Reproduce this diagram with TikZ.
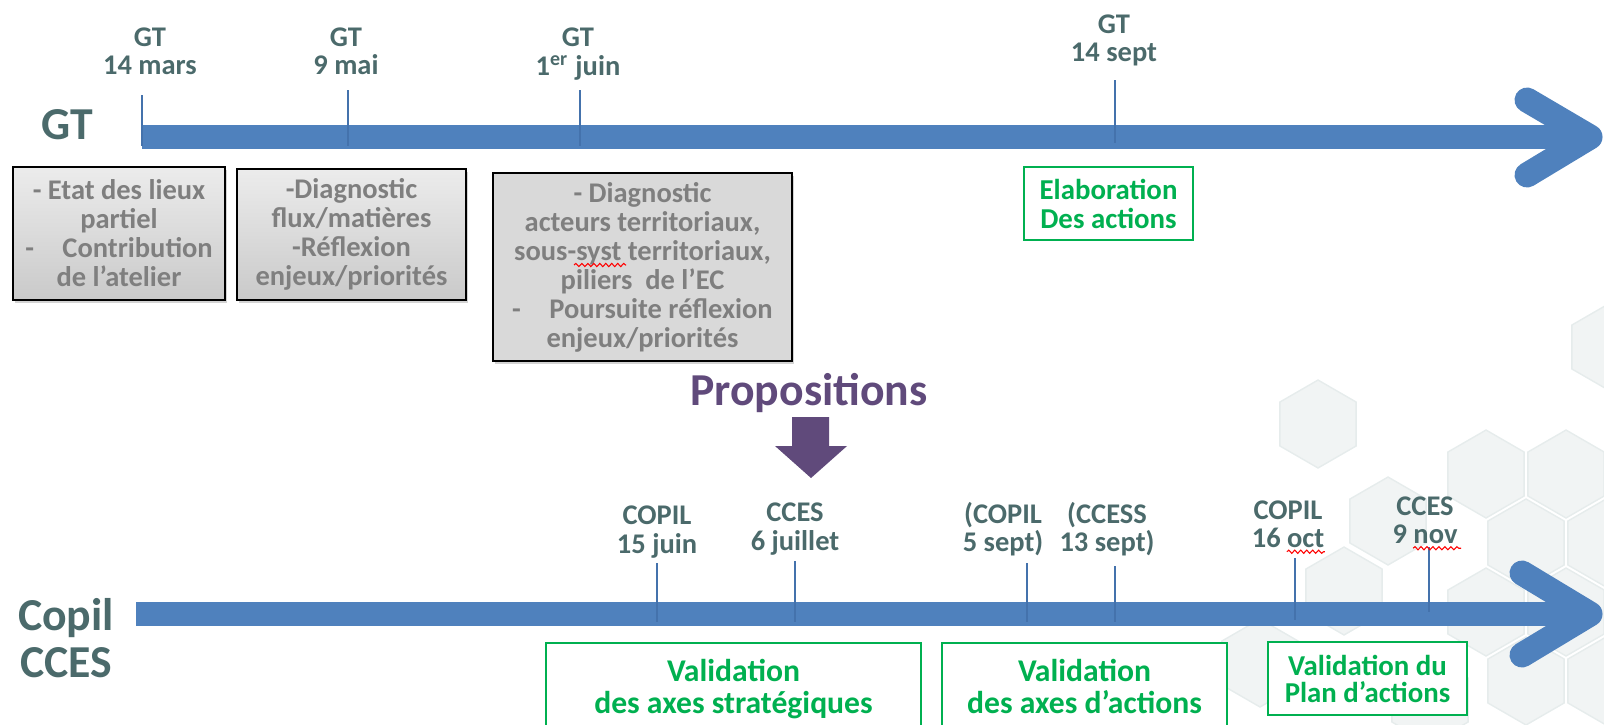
\documentclass[tikz,border=0pt]{standalone}
\usepackage{fontspec}
\setmainfont{Carlito}
\usetikzlibrary{shadows,decorations.pathmorphing}

\definecolor{bandblue}{HTML}{4F81BD}
\definecolor{tickblue}{HTML}{4472AC}
\definecolor{labelgray}{HTML}{4B6A6B}
\definecolor{boxtext}{HTML}{7F7F7F}
\definecolor{boxgray}{HTML}{D9D9D9}
\definecolor{okgreen}{HTML}{00B050}
\definecolor{propviolet}{HTML}{604A7B}
\definecolor{hexfill}{HTML}{F1F4F4}
\definecolor{hexline}{HTML}{E6ECEC}

\begin{document}
\begin{tikzpicture}[x=0.01cm, y=-0.01cm,
    band/.style={line width=0.24cm, draw=bandblue},
    chevron/.style={line width=0.25cm, draw=bandblue, line cap=round, line join=round},
    datetick/.style={line width=0.025cm, draw=tickblue},
    datelabel/.style={font=\bfseries\fontsize{8.1}{8}\selectfont, text=labelgray, align=center, inner sep=0pt},
    rowlabel/.style={font=\bfseries\fontsize{13}{13.4}\selectfont, text=labelgray, align=center, inner sep=0pt},
    taskbox/.style={draw=black, line width=0.02cm, fill=boxgray, text=boxtext, align=center, inner sep=0pt,
      font=\bfseries\fontsize{8.1}{8.25}\selectfont,
      drop shadow={shadow xshift=0.02cm, shadow yshift=-0.03cm, opacity=0.35}},
    fadebox/.style={top color=gray!15, bottom color=gray!42},
    goalbox/.style={draw=okgreen, line width=0.02cm, fill=white, text=okgreen, align=center, inner sep=0pt,
      font=\bfseries\fontsize{8.2}{8.25}\selectfont},
    spellwave/.style={red, line width=0.3pt, decorate, decoration={snake, amplitude=0.45pt, segment length=1.7pt}},
    hexbg/.style={fill=hexfill, draw=hexline, line width=0.4pt}]

\useasboundingbox (0,0) rectangle (1604,724);

\foreach \x/\y in {1318/424, 1388/521, 1344/591, 1260/663, 1486/474, 1566/474, 1526/543, 1606/543,
    1486/612, 1566/612, 1526/681, 1606/681, 1610/347, 1430/700}
  \draw[hexbg] (\x,\y) +(90:44) -- +(150:44) -- +(210:44) -- +(270:44) -- +(330:44) -- +(30:44) -- cycle;

\node[rowlabel] (gt) at (67,125) {GT};
\coordinate (gtstart) at (142,137);
\coordinate (gttip) at (1590,137);
\draw[band] (gtstart) -- (gttip);
\draw[chevron] (1527,100) -- (gttip) -- (1527,175);

\coordinate (marstop) at (142,95);
\coordinate (marsbot) at (142,146);
\coordinate (maitop) at (348,90);
\coordinate (maibot) at (348,146);
\coordinate (juintop) at (580,90);
\coordinate (juinbot) at (580,146);
\coordinate (septtop) at (1115,80);
\coordinate (septbot) at (1115,143);
\draw[datetick] (marstop) -- (marsbot);
\draw[datetick] (maitop) -- (maibot);
\draw[datetick] (juintop) -- (juinbot);
\draw[datetick] (septtop) -- (septbot);

\node[datelabel] (lmars) at (150,51) {GT\\14 mars};
\node[datelabel] (lmai) at (346,51) {GT\\9 mai};
\node[datelabel] (ljuin) at (578,54) {GT\\1\textsuperscript{er} juin};
\node[datelabel] (lsept) at (1114,40) {GT\\14 sept};

\node[taskbox, fadebox, minimum width=2.12cm, minimum height=1.33cm] (etat) at (119,233.5)
  {- Etat des lieux\\partiel\\-\quad Contribution\\de l'atelier};
\node[taskbox, fadebox, minimum width=2.29cm, minimum height=1.31cm] (diag) at (351.5,234.5)
  {-Diagnostic\\flux/matières\\-Réflexion\\enjeux/priorités};
\node[taskbox, minimum width=2.99cm, minimum height=1.88cm] (acteurs) at (642.5,267)
  {- Diagnostic\\acteurs territoriaux,\\sous-syst territoriaux,\\piliers\ \ de l'EC\\-\quad Poursuite réflexion\\enjeux/priorités};
\coordinate (systa) at (574,265);
\coordinate (systb) at (626,265);
\draw[spellwave] (systa) -- (systb);

\node[goalbox, minimum width=1.69cm, minimum height=0.73cm] (elab) at (1108.5,203.5) {Elaboration\\Des actions};

\node[font=\bfseries\fontsize{13}{13}\selectfont, text=propviolet, inner sep=0pt, anchor=base] (prop) at (809,405) {Propositions};
\fill[propviolet] (792,417) -- (829,417) -- (829,446) -- (847,446) -- (811,478) -- (775,446) -- (792,446) -- cycle;

\node[rowlabel] (copil) at (66,638.5) {Copil\\CCES};
\coordinate (copstart) at (136,614);
\coordinate (coptip) at (1590,614);
\draw[band] (copstart) -- (coptip);
\draw[chevron] (1522,573) -- (coptip) -- (1522,655);

\coordinate (cjuintop) at (657,563);
\coordinate (cjuinbot) at (657,622);
\coordinate (cjuiltop) at (795,561);
\coordinate (cjuilbot) at (795,622);
\coordinate (csepttop) at (1027,563);
\coordinate (cseptbot) at (1027,622);
\coordinate (ssepttop) at (1115,566);
\coordinate (sseptbot) at (1115,622);
\coordinate (octtop) at (1295,558);
\coordinate (octbot) at (1295,620);
\coordinate (novtop) at (1429,547);
\coordinate (novbot) at (1429,612);
\draw[datetick] (cjuintop) -- (cjuinbot);
\draw[datetick] (cjuiltop) -- (cjuilbot);
\draw[datetick] (csepttop) -- (cseptbot);
\draw[datetick] (ssepttop) -- (sseptbot);
\draw[datetick] (octtop) -- (octbot);
\draw[datetick] (novtop) -- (novbot);

\node[datelabel] (lcjuin) at (657,532) {COPIL\\15 juin};
\node[datelabel] (lcjuil) at (795,529) {CCES\\6 juillet};
\node[datelabel] (lcsept) at (1003,529) {(COPIL\\5 sept)};
\node[datelabel] (lssept) at (1107,529) {(CCESS\\13 sept)};
\node[datelabel] (loct) at (1288,524) {COPIL\\16 oct};
\node[datelabel] (lnov) at (1425,520.5) {CCES\\9 nov};
\draw[spellwave] ([xshift=-0.38cm, yshift=-0.035cm]loct.south east) -- ([yshift=-0.035cm]loct.south east);
\draw[spellwave] ([xshift=-0.45cm, yshift=-0.035cm]lnov.south east) -- ([xshift=0.03cm, yshift=-0.035cm]lnov.south east);

\node[goalbox, font=\bfseries\fontsize{9}{9.1}\selectfont, minimum width=3.75cm, minimum height=0.92cm] (strat) at (733.5,689)
  {Validation\\des axes stratégiques};
\node[goalbox, font=\bfseries\fontsize{9}{9.1}\selectfont, minimum width=2.85cm, minimum height=0.86cm] (axes) at (1084.5,686)
  {Validation\\des axes d'actions};
\node[goalbox, font=\bfseries\fontsize{8.2}{7.7}\selectfont, minimum width=1.99cm, minimum height=0.73cm] (plan) at (1367.5,678.5)
  {Validation du\\Plan d'actions};
\end{tikzpicture}
\end{document}
